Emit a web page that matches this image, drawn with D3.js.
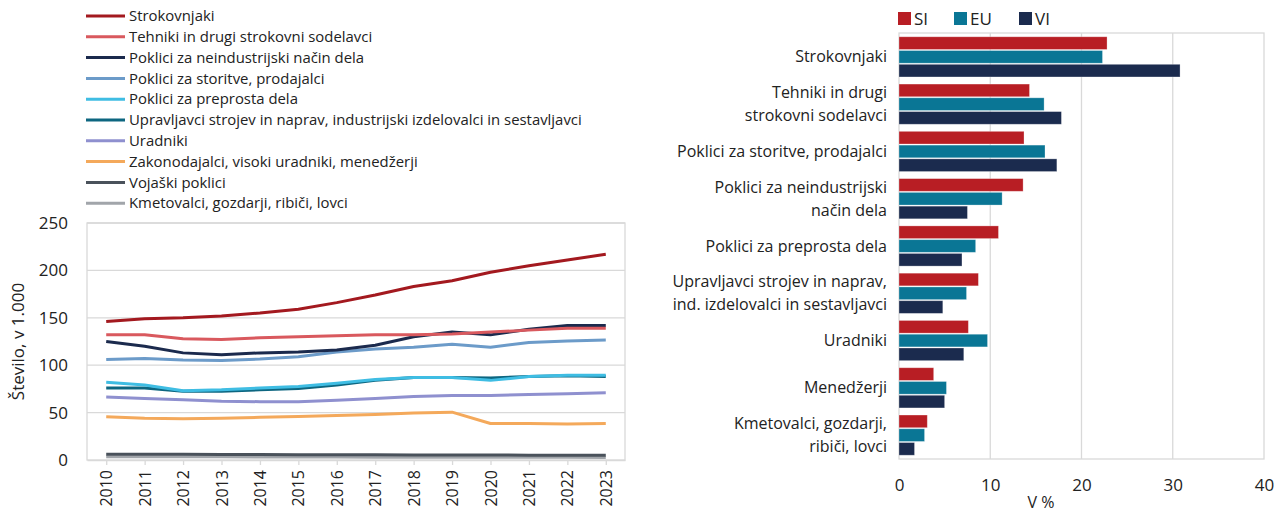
<!DOCTYPE html>
<html>
<head>
<meta charset="utf-8">
<script src="https://cdn.jsdelivr.net/npm/d3@7"></script>
<style>
  body { margin: 0; background: #fff; }
  svg { font-family: "Open Sans", "Noto Sans", sans-serif; }
</style>
</head>
<body>
<svg id="chart" width="1285" height="517"></svg>
<script>
// data: left chart (thousands of people by occupation)
var years = [2010, 2011, 2012, 2013, 2014, 2015, 2016, 2017, 2018, 2019, 2020, 2021, 2022, 2023];
var lineNames = [
  "Strokovnjaki",
  "Tehniki in drugi strokovni sodelavci",
  "Poklici za neindustrijski način dela",
  "Poklici za storitve, prodajalci",
  "Poklici za preprosta dela",
  "Upravljavci strojev in naprav, industrijski izdelovalci in sestavljavci",
  "Uradniki",
  "Zakonodajalci, visoki uradniki, menedžerji",
  "Vojaški poklici",
  "Kmetovalci, gozdarji, ribiči, lovci"
];
var lineColors = ["#a3191f", "#d9595e", "#1b2a4d", "#6c9bc9", "#3fbde3", "#0d6680", "#8f90cf", "#f4a95b", "#4a525b", "#a1a5aa"];
var strokovnjaki = [146, 149, 150, 152, 155, 159, 166, 174, 183, 189, 198, 205, 211, 217];
var tehniki = [132, 132, 128, 127, 129, 130, 131, 132, 132, 133, 135, 137, 139, 139];
var neindustrijski = [125, 120, 113, 111, 113, 114, 116, 121, 130, 135, 132, 138, 142, 142];
var storitve = [106, 107, 105.5, 105, 106.5, 109, 114, 117, 119, 122, 119, 124, 125.5, 126.5];
var preprosta = [82, 79, 73, 74, 76, 77.5, 81, 85, 87, 87, 84, 88, 89.5, 89.5];
var upravljavci = [76, 76, 72.5, 72.5, 74, 75.5, 79, 84, 87, 87, 86.5, 88, 89, 88];
var uradniki = [66.5, 65, 63.5, 62, 61.5, 61.5, 63, 65, 67, 68, 68, 69, 70, 71];
var zakonodajalci = [45.5, 44, 43.5, 44, 45, 46, 47, 48, 49.5, 50.5, 38.5, 38.5, 38, 38.5];
var vojaski = [6, 6, 6, 5.8, 5.7, 5.6, 5.5, 5.5, 5.4, 5.3, 5.2, 5.1, 5, 5];
var kmetovalci = [3.5, 3.5, 3.4, 3.3, 3.2, 3.2, 3.1, 3, 3, 3, 2.9, 2.8, 2.8, 2.7];
var lineSeries = [strokovnjaki, tehniki, neindustrijski, storitve, preprosta, upravljavci, uradniki, zakonodajalci, vojaski, kmetovalci];
var yTicks = [0, 50, 100, 150, 200, 250];

// data: right chart (share in %)
var barCats = [
  ["Strokovnjaki"],
  ["Tehniki in drugi", "strokovni sodelavci"],
  ["Poklici za storitve, prodajalci"],
  ["Poklici za neindustrijski", "način dela"],
  ["Poklici za preprosta dela"],
  ["Upravljavci strojev in naprav,", "ind. izdelovalci in sestavljavci"],
  ["Uradniki"],
  ["Menedžerji"],
  ["Kmetovalci, gozdarji,", "ribiči, lovci"]
];
var barKeys = ["SI", "EU", "VI"];
var barColors = ["#b81e24", "#0a7695", "#1b2b4e"];
var siVals = [22.8, 14.3, 13.7, 13.6, 10.9, 8.7, 7.6, 3.8, 3.1];
var euVals = [22.3, 15.9, 16.0, 11.3, 8.4, 7.4, 9.7, 5.2, 2.8];
var viVals = [30.8, 17.8, 17.3, 7.5, 6.9, 4.8, 7.1, 5.0, 1.7];
var barSeries = [siVals, euVals, viVals];
var xTicks = [0, 10, 20, 30, 40];

var svg = d3.select("#chart");
var gridColor = "#d9d9d9";
var textColor = "#222";

// ---------- left: line chart ----------
var L = { left: 87, right: 625, top: 223, bottom: 460 };
var x = d3.scalePoint().domain(years).range([L.left, L.right]).padding(0.5);
var y = d3.scaleLinear().domain([0, 250]).range([L.bottom, L.top]);

var left = svg.append("g");
left.append("g").selectAll("line").data(yTicks.slice(1)).enter().append("line")
  .attr("x1", L.left).attr("x2", L.right)
  .attr("y1", d => y(d)).attr("y2", d => y(d))
  .attr("stroke", gridColor).attr("stroke-width", 1.3);
left.append("rect")
  .attr("x", L.left).attr("y", L.top)
  .attr("width", L.right - L.left).attr("height", L.bottom - L.top)
  .attr("fill", "none").attr("stroke", gridColor).attr("stroke-width", 1.3);

var yAxis = left.append("g")
  .attr("transform", `translate(${L.left},0)`)
  .call(d3.axisLeft(y).tickValues(yTicks).tickSize(0).tickPadding(19));
yAxis.select(".domain").remove();
yAxis.selectAll("text").attr("font-size", 17).attr("fill", textColor).attr("font-family", "Open Sans");

var xAxis = left.append("g")
  .attr("transform", `translate(0,${L.bottom})`)
  .call(d3.axisBottom(x).tickSize(5).tickSizeOuter(0));
xAxis.select(".domain").attr("stroke", gridColor).attr("stroke-width", 1.3);
xAxis.selectAll(".tick line").attr("stroke", gridColor).attr("stroke-width", 1.3);
xAxis.selectAll("text")
  .attr("font-size", 16).attr("fill", textColor).attr("font-family", "Open Sans")
  .attr("transform", "rotate(-90)")
  .attr("text-anchor", "end")
  .attr("x", -10).attr("y", 0).attr("dy", "0.35em");

left.append("text")
  .attr("transform", `translate(24, ${(L.top + L.bottom) / 2}) rotate(-90)`)
  .attr("text-anchor", "middle")
  .attr("font-size", 17).attr("fill", textColor)
  .text("Število, v 1.000");

var line = d3.line().x((d, i) => x(years[i])).y(d => y(d));
// draw bottom series first so top ones overlap like the original
for (var i = lineSeries.length - 1; i >= 0; i--) {
  left.append("path")
    .datum(lineSeries[i])
    .attr("d", line)
    .attr("fill", "none")
    .attr("stroke", lineColors[i])
    .attr("stroke-width", 3)
    .attr("stroke-linejoin", "round");
}

// legend
var leg = left.append("g").selectAll("g").data(lineNames).enter().append("g")
  .attr("transform", (d, i) => `translate(86, ${16 + i * 20.8})`);
leg.append("line").attr("x1", 0).attr("x2", 39)
  .attr("stroke", (d, i) => lineColors[i]).attr("stroke-width", 3);
leg.append("text").attr("x", 43).attr("dy", "0.35em")
  .attr("font-size", 14.9).attr("fill", textColor)
  .text(d => d);

// ---------- right: bar chart ----------
var R = { left: 899, right: 1264, top: 33, bottom: 459 };
var xb = d3.scaleLinear().domain([0, 40]).range([R.left, R.right]);
var yb = d3.scaleBand().domain(d3.range(barCats.length)).range([R.top, R.bottom]).paddingInner(0.15).paddingOuter(0.08);
var ys = d3.scaleBand().domain(d3.range(barKeys.length)).range([0, yb.bandwidth()]).paddingInner(0.08);

var right = svg.append("g");
right.append("g").selectAll("line").data(xTicks.slice(1, -1)).enter().append("line")
  .attr("x1", d => xb(d)).attr("x2", d => xb(d))
  .attr("y1", R.top).attr("y2", R.bottom)
  .attr("stroke", gridColor).attr("stroke-width", 1.3);
right.append("rect")
  .attr("x", R.left).attr("y", R.top)
  .attr("width", R.right - R.left).attr("height", R.bottom - R.top)
  .attr("fill", "none").attr("stroke", gridColor).attr("stroke-width", 1.3);

var groups = right.append("g").selectAll("g").data(barCats).enter().append("g")
  .attr("transform", (d, i) => `translate(0,${yb(i)})`);
barKeys.forEach(function (k, s) {
  groups.append("rect")
    .attr("x", xb(0))
    .attr("y", ys(s))
    .attr("height", ys.bandwidth())
    .attr("width", (d, i) => xb(barSeries[s][i]) - xb(0))
    .attr("fill", barColors[s])
    .attr("stroke", "#fff").attr("stroke-opacity", 0.35).attr("stroke-width", 0.8);
});

// category labels
groups.append("text")
  .attr("x", R.left - 12)
  .attr("y", yb.bandwidth() / 2)
  .attr("text-anchor", "end")
  .attr("font-size", 16).attr("fill", textColor)
  .each(function (d) {
    var t = d3.select(this);
    var n = d.length;
    d.forEach(function (s, j) {
      t.append("tspan").attr("x", R.left - 12)
        .attr("dy", j === 0 ? ((0.35 - (n - 1) * 0.72) + "em") : "1.44em")
        .text(s);
    });
  });

var xbAxis = right.append("g")
  .attr("transform", `translate(0,${R.bottom})`)
  .call(d3.axisBottom(xb).tickValues(xTicks).tickSize(0).tickPadding(20));
xbAxis.select(".domain").remove();
xbAxis.selectAll("text").attr("font-size", 17).attr("fill", textColor).attr("font-family", "Open Sans");

right.append("text")
  .attr("x", 1041).attr("y", 508)
  .attr("text-anchor", "middle")
  .attr("font-size", 16).attr("fill", textColor)
  .text("V %");

// bar legend
var bl = right.append("g").selectAll("g").data(barKeys).enter().append("g")
  .attr("transform", (d, i) => `translate(${[898, 954, 1019][i]}, 12)`);
bl.append("rect").attr("width", 13).attr("height", 13).attr("fill", (d, i) => barColors[i]);
bl.append("text").attr("x", 16).attr("y", 6.5).attr("dy", "0.36em")
  .attr("font-size", 17).attr("fill", textColor).text(d => d);
</script>
</body>
</html>
